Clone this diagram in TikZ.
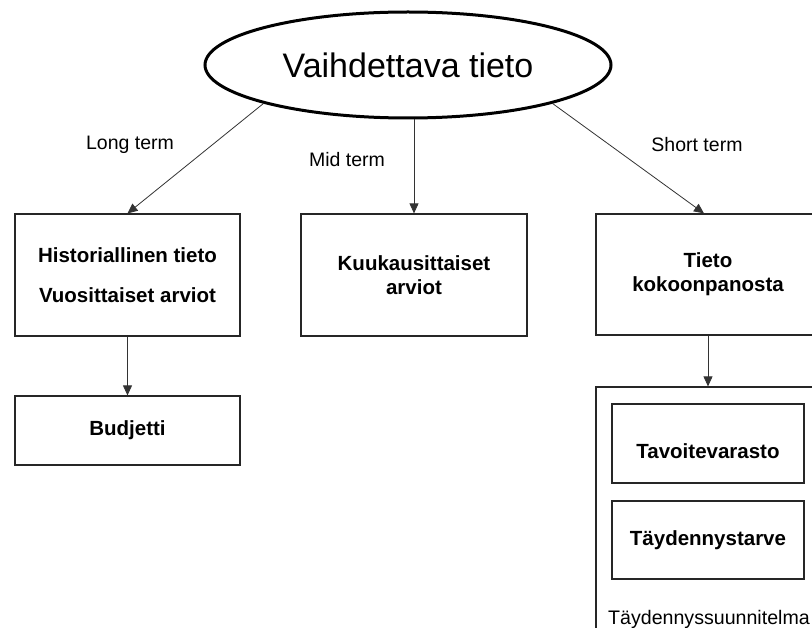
\documentclass[tikz,border=0pt]{standalone}
\usepackage{fontspec}
\setmainfont{Liberation Sans}
\usetikzlibrary{shapes.geometric,arrows.meta}
\tikzset{
  box/.style={draw=black!85, line width=1.2pt, rectangle, inner sep=0pt,
    align=center, font=\bfseries\fontsize{20.5}{24}\selectfont},
  link/.style={draw=black!80, line width=0.8pt, -{Triangle[length=10pt,width=9pt]}},
  termlabel/.style={font=\fontsize{19.5}{22}\selectfont, inner sep=0pt}
}
\begin{document}
\begin{tikzpicture}[x=1pt,y=-1pt]
  \clip (0,0) rectangle (812,628);
  \fill[white] (0,0) rectangle (812,628);

  % top node
  \node[ellipse, draw, line width=3pt, minimum width=406pt, minimum height=106pt, inner sep=0pt,
        font=\fontsize{34}{40}\selectfont] (ell) at (408,65) {Vaihdettava tieto};

  % first row
  \node[box, minimum width=225pt, minimum height=122pt] (hist) at (127.5,275)
    {Historiallinen tieto\\[16pt]Vuosittaiset arviot};
  \node[box, minimum width=226pt, minimum height=122pt] (kuuk) at (414,275)
    {Kuukausittaiset\\arviot};
  \node[box, minimum width=224pt, minimum height=121pt] (tieto) at (708,274.5)
    {Tieto\\kokoonpanosta};

  % second row
  \node[box, minimum width=225pt, minimum height=69pt] (budj) at (127.5,430.5) {Budjetti};
  \node[draw=black!85, line width=1.2pt, rectangle, inner sep=0pt,
        minimum width=224pt, minimum height=260pt] (plan) at (708,517) {};
  \node[box, minimum width=192pt, minimum height=79pt, text height=31pt] (tavo) at (708,443.5)
    {Tavoitevarasto};
  \node[box, minimum width=192pt, minimum height=78pt] (tayd) at (708,540) {Täydennystarve};
  \node[anchor=west, inner sep=0pt, font=\fontsize{19.6}{22}\selectfont] (plantxt) at (608,619)
    {Täydennyssuunnitelma};

  % connectors
  \draw[link] (ell.south west) -- (hist.north);
  \draw[link] (ell.south -| kuuk.north) -- (kuuk.north);
  \draw[link] (ell.south east) -- ([xshift=-4pt]tieto.north);
  \draw[link] (hist.south) -- (budj.north);
  \draw[link] (tieto.south) -- (plan.north);

  % connector labels
  \node[termlabel] (lt) at (130,145) {Long term};
  \node[termlabel] (mt) at (347,160) {Mid term};
  \node[termlabel] (st) at (697,145) {Short term};
\end{tikzpicture}
\end{document}
